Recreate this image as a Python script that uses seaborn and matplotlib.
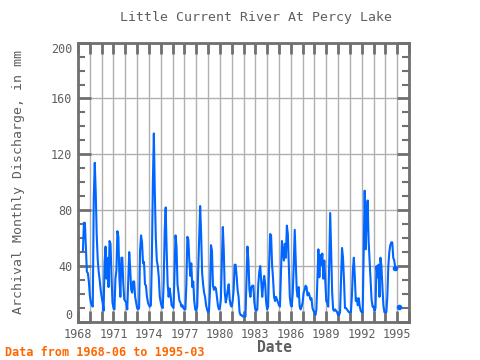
import matplotlib
matplotlib.use("Agg")
import matplotlib.pyplot as plt
from matplotlib.ticker import MultipleLocator, FuncFormatter
import seaborn as sns
import numpy as np
import pandas as pd

# monthly discharge (mm), 1968-06 .. 1995-03, NaN = missing
start = "1968-06"
end = "1995-03"
discharge = [
    51, 71, 71, 54, 36, 35, 29,                                   # 1968
    19, 14, 12, 11, 89, 114, 93, 62, 45, 36, 30, 23,              # 1969
    18, 14, 8, 43, 54, 31, 46, 25, 58, 56, 33, 14,                # 1970
    10, 9, 31, 37, 65, 61, 32, 18, 46, 46, 27, 16,                # 1971
    15, 14, 9, 29, 50, 38, 23, 21, 29, 29, 18, 14,                # 1972
    10, 9, 10, 51, 62, 57, 42, 43, 27, 26, 18, 14,                # 1973
    12, 11, 12, 46, 100, 135, 92, 60, 44, 40, 32, 18,             # 1974
    14, 11, 10, 29, 65, 82, 51, 27, 18, 24, 19, 12,               # 1975
    11, 10, 37, 62, 54, 27, 21, 15, 14, 11, 12, 10,               # 1976
    9, 9, 27, 61, 59, 44, 33, 42, 25, 29, 15, 9,                  # 1977
    8, 11, 37, 59, 83, 63, 35, 27, 21, 18, 12, 9,                 # 1978
    7, 8, 23, 55, 51, 26, 23, 25, 24, 18, 12, 9,                  # 1979
    10, 16, 41, 68, 51, 21, 14, 18, 23, 27, 16, 12,               # 1980
    11, 15, 23, 41, 41, 33, 23, 18, 7, 5, 5, 4,                   # 1981
    4, 4, 4, 29, 54, 44, 23, 18, 25, 26, 26, 14,                  # 1982
    9, 8, 9, 27, 36, 40, 29, 18, 27, 33, 27, 14,                  # 1983
    9, 11, 41, 63, 62, 41, 31, 18, 15, 18, 16, 14,                # 1984
    12, 11, 35, 58, 51, 44, 56, 46, 69, 63, 41, 18,               # 1985
    12, 11, 21, 41, 66, 44, 23, 18, 25, 11, 9, 11,                # 1986
    14, 21, 23, 26, 25, 19, 21, 19, 16, 17, 10, 8,                # 1987
    7, 5, 9, 30, 52, 32, 48, 41, 49, 31, 44, 30,                  # 1988
    15, 14, 11, 42, 78, 50, 21, 9, 8, 9, 8, 7,                    # 1989
    5, 5, 7, 30, 53, 46, 30, 10, 10, 9, 8, 7,                     # 1990
    7, 7, 18, 37, 46, 32, 15, 17, 12, 17, 11, 8,                  # 1991
    7, 7, 51, 94, 52, 75, 87, 58, 44, 30, 16, 11,                 # 1992
    11, 8, 10, 40, 32, 41, 18, 46, 40, 25, 12, 7,                 # 1993
    7, 7, 18, 40, 50, 55, 57, 57, 46, 44, 39, np.nan,             # 1994
    np.nan, np.nan, 11,                                           # 1995
]
year_ticks = list(range(1968, 1996, 3))

months = pd.period_range(start, end, freq="M")
df = pd.DataFrame({
    "year": months.year + (months.month - 1) / 12.0,
    "value": discharge,
})
df["seg"] = df["value"].isna().cumsum()
df = df.dropna()

sns.set_theme(style="white")
plt.rcParams["font.family"] = ["DejaVu Sans Mono", "DejaVu Sans"]

grey = "#707070"
text_grey = "#5f5f5f"
blue = "#0066ff"

fig = plt.figure(figsize=(4.8, 3.6), dpi=100)
ax = fig.add_axes([0.1625, 0.1056, 0.6896, 0.776])
ax.set_xlim(1968, 1996)
ax.set_ylim(0, 200)
ax.xaxis.set_major_locator(MultipleLocator(1))
ax.yaxis.set_major_locator(MultipleLocator(40))
ax.yaxis.set_minor_locator(MultipleLocator(10))
ax.xaxis.grid(True, which="major", color="#b0b0b0", linewidth=1, linestyle="-")
ax.yaxis.grid(True, which="major", color="#b0b0b0", linewidth=1, linestyle="-")

sns.lineplot(data=df, x="year", y="value", units="seg", estimator=None,
             color=blue, lw=1.5, ax=ax, zorder=3)

# dots where a run of data ends before a gap (and the last month)
ends = df.groupby("seg").tail(1)
ax.plot(ends["year"], ends["value"], "o", color=blue, ms=3, zorder=3)

ax.set_xlim(1968, 1996)
ax.set_ylim(0, 200)
ax.xaxis.set_major_formatter(FuncFormatter(
    lambda v, p: f"{int(round(v))}" if int(round(v)) in year_ticks else ""))

ax.tick_params(axis="x", which="major", direction="in", length=8, width=2,
               color=grey, top=True, bottom=True, labelsize=8.5,
               labelcolor=text_grey, pad=4)
ax.tick_params(axis="y", which="major", direction="in", length=9, width=2,
               color=grey, left=True, right=True, labelsize=8.5,
               labelcolor=text_grey, pad=4)
ax.tick_params(axis="y", which="minor", direction="in", length=5, width=1.5,
               color=grey, left=True, right=True)
for sp in ax.spines.values():
    sp.set_color(grey)
    sp.set_linewidth(2)

ax.set_xlabel("")
ax.set_ylabel("")

# keep the end labels of the y axis inside the frame, as in the original
fig.canvas.draw()
for t in ax.yaxis.get_major_ticks():
    if np.isclose(t.get_loc(), 0):
        t.label1.set_va("bottom")
    elif np.isclose(t.get_loc(), 200):
        t.label1.set_va("top")

fig.text(0.533, 1 - 17 / 360, "Little Current River At Percy Lake",
         ha="center", va="center", fontsize=9.5, color=text_grey)
fig.text(0.571, 1 - 348 / 360, "Date", ha="center", va="center",
         fontsize=10.5, fontweight="bold", color=text_grey)
fig.text(0.038, 1 - 182 / 360, "Archival Monthly Discharge, in mm",
         ha="center", va="center", rotation=90, fontsize=9.5, color=text_grey)
fig.text(0.01, 1 - 352 / 360, f"Data from {start} to {end}",
         ha="left", va="center", fontsize=8.5, fontweight="bold", color="#ff6600")

fig.savefig("out.png", dpi=100)
